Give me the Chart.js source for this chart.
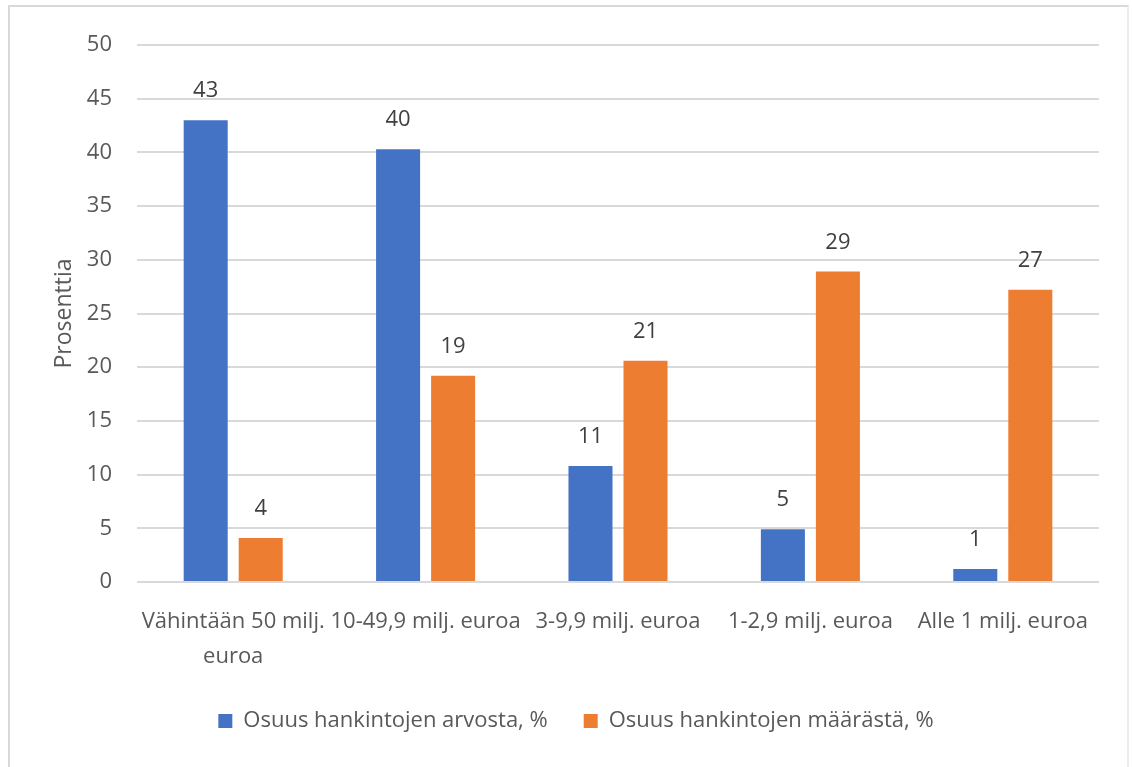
<!DOCTYPE html>
<html>
<head>
<meta charset="utf-8">
<script src="https://cdn.jsdelivr.net/npm/chart.js@4/dist/chart.umd.min.js"></script>
<style>
  html, body { margin: 0; padding: 0; background: #fff; overflow: hidden; }
  #wrap { position: relative; width: 1132px; height: 767px; overflow: hidden; }
  #frame { position: absolute; left: 8px; top: 5px; width: 1121px; height: 800px;
           border: 2px solid #d9d9d9; border-right-color: #ececec; box-sizing: border-box; }
  #c { position: absolute; left: 0; top: 0; }
</style>
</head>
<body>
<div id="wrap">
  <div id="frame"></div>
  <canvas id="c" width="1132" height="742"></canvas>
</div>
<script>
// Hankintojen kokoluokat
const categories = [
  ['Vähintään 50 milj.', 'euroa'],
  '10-49,9 milj. euroa',
  '3-9,9 milj. euroa',
  '1-2,9 milj. euroa',
  'Alle 1 milj. euroa'
];
const arvostaValues  = [43.0, 40.3, 10.8, 4.9, 1.2];   // Osuus hankintojen arvosta, %
const maarastaValues = [4.1, 19.2, 20.6, 28.9, 27.2];  // Osuus hankintojen määrästä, %
const seriesNames = ['Osuus hankintojen arvosta, %', 'Osuus hankintojen määrästä, %'];
const yTicks = [0, 5, 10, 15, 20, 25, 30, 35, 40, 45, 50];

const TEXT = '#595959';
const FONT = "'Open Sans', 'Noto Sans', sans-serif";
Chart.defaults.font.family = FONT;
Chart.defaults.font.size = 22;
Chart.defaults.color = TEXT;

// value labels above the bars, rounded like in the source
const barLabels = {
  id: 'barLabels',
  afterDatasetsDraw(chart) {
    const ctx = chart.ctx;
    ctx.save();
    ctx.font = '22px ' + FONT;
    ctx.fillStyle = '#404040';
    ctx.textAlign = 'center';
    ctx.textBaseline = 'alphabetic';
    chart.data.datasets.forEach((ds, i) => {
      chart.getDatasetMeta(i).data.forEach((bar, j) => {
        ctx.fillText(Math.round(ds.data[j]).toString(), bar.x, bar.y - 23);
      });
    });
    ctx.restore();
  }
};

new Chart(document.getElementById('c'), {
  type: 'bar',
  data: {
    labels: categories,
    datasets: [
      { label: seriesNames[0], data: arvostaValues, backgroundColor: '#4472C4',
        categoryPercentage: 0.572, barPercentage: 0.8 },
      { label: seriesNames[1], data: maarastaValues, backgroundColor: '#ED7D31',
        categoryPercentage: 0.572, barPercentage: 0.8 }
    ]
  },
  options: {
    responsive: false,
    animation: false,
    // left padding also centres the legend where the source has it
    layout: { padding: { top: 45, left: 53, right: 33, bottom: 0 } },
    plugins: {
      tooltip: { enabled: false },
      legend: {
        position: 'bottom',
        labels: { boxWidth: 14, boxHeight: 14, padding: 36, color: TEXT,
                  font: { size: 22 } }
      }
    },
    scales: {
      x: {
        grid: { display: false, drawTicks: false },
        border: { display: false },
        ticks: { padding: 22, maxRotation: 0, autoSkip: false, color: TEXT,
                 font: { size: 22, lineHeight: 1.59 } },
        afterFit(s) { s.height = 92; }
      },
      y: {
        min: 0, max: 50,
        afterBuildTicks(s) { s.ticks = yTicks.map(v => ({ value: v })); },
        grid: { color: '#d9d9d9', lineWidth: 2, drawTicks: false },
        border: { display: false },
        ticks: { padding: 25, color: TEXT, font: { size: 22 } },
        title: { display: true, text: 'Prosenttia', color: TEXT,
                 font: { size: 23, lineHeight: 1.0 }, padding: { top: 0, bottom: 0 } },
        afterFit(s) { s.width = 84; }
      }
    }
  },
  plugins: [barLabels]
});
</script>
</body>
</html>
